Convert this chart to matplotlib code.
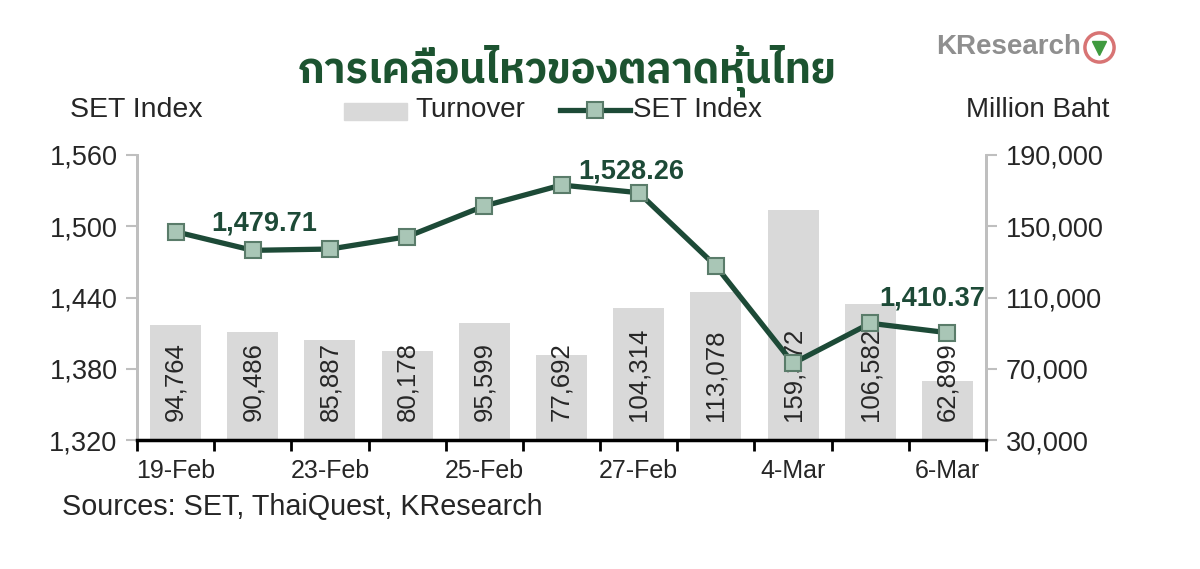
import matplotlib
matplotlib.use("Agg")
import matplotlib.pyplot as plt
from matplotlib import font_manager as fm
from matplotlib.patches import Rectangle
from matplotlib.lines import Line2D

# ---------------- data ----------------
dates = ["19-Feb", "20-Feb", "23-Feb", "24-Feb", "25-Feb", "26-Feb",
         "27-Feb", "3-Mar", "4-Mar", "5-Mar", "6-Mar"]
set_index = [1495.4, 1479.71, 1480.8, 1491.2, 1517.1, 1534.7,
             1528.26, 1466.5, 1384.6, 1418.3, 1410.37]
turnover = [94764, 90486, 85887, 80178, 95599, 77692,
            104314, 113078, 159372, 106582, 62899]
left_ticks = [1320, 1380, 1440, 1500, 1560]
right_ticks = [30000, 70000, 110000, 150000, 190000]
annotated = {1: "1,479.71", 6: "1,528.26", 10: "1,410.37"}
title = "การเคลื่อนไหวของตลาดหุ้นไทย"

# ---------------- fonts ----------------
thai_font = None
try:
    from fontTools.ttLib import TTFont
    for f in fm.fontManager.ttflist:
        try:
            tt = TTFont(f.fname, fontNumber=0, lazy=True)
            cmap = tt.getBestCmap()
            if cmap and 0x0E01 in cmap and 0x0E40 in cmap:
                thai_font = f.name
                if "Sans" in f.name or "Noto" in f.name:
                    break
        except Exception:
            pass
except Exception:
    pass

names = {f.name for f in fm.fontManager.ttflist}
base = "Liberation Sans" if "Liberation Sans" in names else "DejaVu Sans"
plt.rcParams["font.family"] = [base, "DejaVu Sans"]

title_family = [thai_font, base] if thai_font else [base]

# ---------------- figure ----------------
fig = plt.figure(figsize=(12, 5.69), dpi=100)
ax = fig.add_axes([137/1200, 1-440/569, (986-137)/1200, (440-155)/569])
ax2 = ax.twinx()

x = list(range(len(dates)))
text_c = "#262626"
green = "#1d4a37"

# bars on the right axis
ax2.bar(x, turnover, width=0.66, color="#d9d9d9", zorder=1)
ax2.set_ylim(30000, 190000)
ax2.set_yticks(right_ticks)
ax2.set_yticklabels([f"{v:,}" for v in right_ticks], fontsize=19.5, color=text_c)
for xi, v in zip(x, turnover):
    ax2.annotate(f"{v:,}", xy=(xi, 30000), xytext=(0, 14), textcoords="offset points",
                 rotation=90, ha="center", va="bottom", fontsize=18.5, color=text_c)

# line on the left axis, drawn above the bars
ax.set_zorder(ax2.get_zorder() + 1)
ax.patch.set_visible(False)
ax.plot(x, set_index, color=green, lw=3.8, marker="s", markersize=11,
        markerfacecolor="#a9c6b6", markeredgecolor="#5a7c6a", markeredgewidth=1.5,
        solid_joinstyle="round", zorder=3)
ax.set_ylim(1320, 1560)
ax.set_yticks(left_ticks)
ax.set_yticklabels([f"{v:,}" for v in left_ticks], fontsize=19.5, color=text_c)
offsets = {1: (8, 19.5), 6: (-5, 15), 10: (-11, 24.5)}
for i, lab in annotated.items():
    ax.annotate(lab, xy=(i, set_index[i]), xytext=offsets[i], textcoords="offset points",
                ha="center", va="center", fontsize=19.5, fontweight="bold", color=green)

ax.set_xlim(-0.5, len(dates) - 0.5)
ax.set_xticks([i for i in x if i % 2 == 0])
ax.set_xticklabels([dates[i] for i in x if i % 2 == 0], fontsize=18, color=text_c)
ax.set_xticks([i - 0.5 for i in range(len(dates) + 1)], minor=True)
ax.tick_params(axis="x", which="major", length=0, pad=14)
ax.tick_params(axis="x", which="minor", length=8, width=2, color="black", direction="out")
ax.tick_params(axis="y", length=8, width=1.5, color="#bfbfbf", pad=6)
ax2.tick_params(axis="y", length=8, width=1.5, color="#bfbfbf", pad=6)

for a in (ax, ax2):
    a.spines["top"].set_visible(False)
    a.spines["left"].set_color("#bfbfbf")
    a.spines["right"].set_color("#bfbfbf")
    a.spines["left"].set_linewidth(2)
    a.spines["right"].set_linewidth(2)
    a.spines["bottom"].set_color("black")
    a.spines["bottom"].set_linewidth(2.5)
ax2.spines["bottom"].set_visible(False)

# ---------------- texts ----------------
fig.text(567/1200, 1-71/569, title, family=title_family, fontsize=30, fontweight="bold",
         color="#1c5330", ha="center", va="center")
fig.text(70/1200, 1-110/569, "SET Index", fontsize=20.5, color=text_c, ha="left", va="center")
fig.text(1109/1200, 1-110/569, "Million Baht", fontsize=20, color=text_c, ha="right", va="center")
fig.text(62/1200, 1-507/569, "Sources: SET, ThaiQuest, KResearch", fontsize=20.7,
         color=text_c, ha="left", va="center")

# legend (manual)
fig.patches.append(Rectangle((344/1200, 1-120/569), 63/1200, 17/569,
                             transform=fig.transFigure, color="#d9d9d9", figure=fig))
fig.text(415/1200, 1-110/569, "Turnover", fontsize=20, color=text_c, ha="left", va="center")
fig.lines.append(Line2D([560/1200, 630/1200], [1-110/569, 1-110/569], transform=fig.transFigure,
                        color=green, lw=3.8, figure=fig))
fig.lines.append(Line2D([595/1200], [1-110/569], transform=fig.transFigure, marker="s",
                        markersize=11, markerfacecolor="#a9c6b6", markeredgecolor="#5a7c6a",
                        markeredgewidth=1.5, figure=fig))
fig.text(633/1200, 1-110/569, "SET Index", fontsize=20, color=text_c, ha="left", va="center")

# KResearch logo text
fig.text(936/1200, 1-47/569, "KResearch", fontsize=20, fontweight="bold", color="#8f8f8f",
         ha="left", va="center")
fig.lines.append(Line2D([1099/1200], [1-47/569], transform=fig.transFigure, marker="o",
                        markersize=21, markerfacecolor="white", markeredgecolor="#d87474",
                        markeredgewidth=2.5, figure=fig))
fig.lines.append(Line2D([1099/1200], [1-48/569], transform=fig.transFigure, marker="v",
                        markersize=10, color="#3f9a3f", figure=fig))

fig.savefig("out.png", dpi=100, facecolor="white")
